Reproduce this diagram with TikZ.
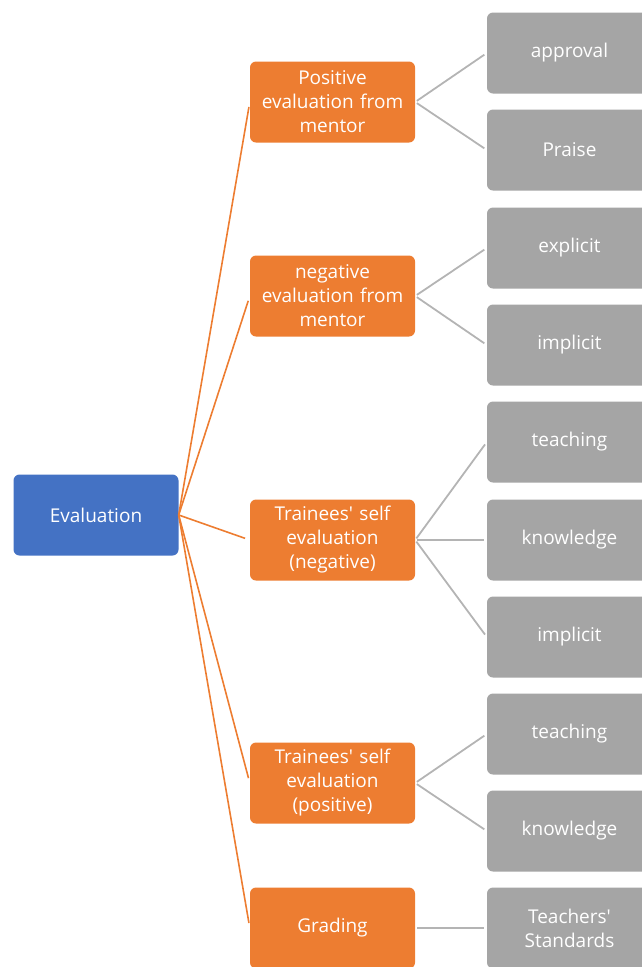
\documentclass[tikz,border=0pt]{standalone}
\usepackage{fontspec}
\setmainfont{Open Sans}[Ligatures=TeXOff]
\definecolor{rootblue}{HTML}{4472C4}
\definecolor{midorange}{HTML}{ED7D31}
\definecolor{leafgray}{HTML}{A5A5A5}
\definecolor{linkgray}{HTML}{B4B4B4}
\begin{document}
\begin{tikzpicture}[x=1pt,y=-1pt,
  box/.style={rounded corners=6pt, minimum width=165pt, minimum height=81pt,
    text width=160pt, align=center, text=white, inner sep=0pt,
    font=\fontsize{19}{24}\selectfont},
  rootbox/.style={box, fill=rootblue},
  midbox/.style={box, fill=midorange},
  leafbox/.style={box, fill=leafgray},
  rootlink/.style={draw=midorange, line width=1.6pt, shorten >=5pt},
  leaflink/.style={draw=linkgray, line width=1.8pt, shorten <=2pt, shorten >=3pt}]
\useasboundingbox (0,0) rectangle (641,967);

% root
\node[rootbox] (root) at (96,515) {Evaluation};

% second level
\node[midbox] (pos)  at (332.5,102) {Positive\\evaluation from\\mentor};
\node[midbox] (neg)  at (332.5,296) {negative\\evaluation from\\mentor};
\node[midbox] (sneg) at (332.5,540) {Trainees' self\\evaluation\\(negative)};
\node[midbox] (spos) at (332.5,783) {Trainees' self\\evaluation\\(positive)};
\node[midbox] (grad) at (332.5,928) {Grading};

% leaves
\node[leafbox] (l1)  at (569.5,53)  {approval};
\node[leafbox] (l2)  at (569.5,150) {Praise};
\node[leafbox] (l3)  at (569.5,248) {explicit};
\node[leafbox] (l4)  at (569.5,345) {implicit};
\node[leafbox] (l5)  at (569.5,442) {teaching};
\node[leafbox] (l6)  at (569.5,540) {knowledge};
\node[leafbox] (l7)  at (569.5,637) {implicit};
\node[leafbox] (l8)  at (569.5,734) {teaching};
\node[leafbox] (l9)  at (569.5,831) {knowledge};
\node[leafbox] (l10) at (569.5,928) {Teachers'\\Standards};

% root to second level
\foreach \m in {pos,neg,sneg,spos,grad}
  \draw[rootlink] (root.east) -- (\m.west);

% second level to leaves
\draw[leaflink] (pos.east) -- (l1.west);
\draw[leaflink] (pos.east) -- (l2.west);
\draw[leaflink] (neg.east) -- (l3.west);
\draw[leaflink] (neg.east) -- (l4.west);
\draw[leaflink] (sneg.east) -- (l5.west);
\draw[leaflink] (sneg.east) -- (l6.west);
\draw[leaflink] (sneg.east) -- (l7.west);
\draw[leaflink] (spos.east) -- (l8.west);
\draw[leaflink] (spos.east) -- (l9.west);
\draw[leaflink] (grad.east) -- (l10.west);
\end{tikzpicture}
\end{document}
